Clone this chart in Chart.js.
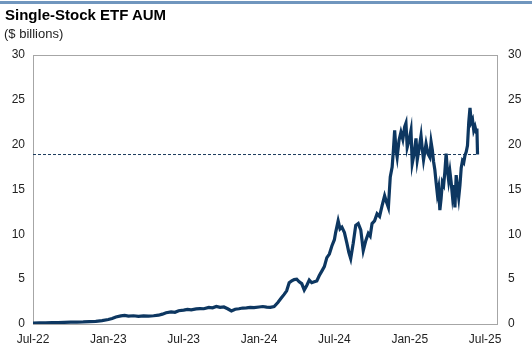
<!DOCTYPE html>
<html>
<head>
<meta charset="utf-8">
<script src="https://cdn.jsdelivr.net/npm/chart.js@4"></script>
<style>
    body { margin: 0; background: #fff; font-family: "Liberation Sans", Arial, sans-serif; }
    #wrap { position: relative; width: 532px; height: 353px; }
    #topbar { position: absolute; left: 0; top: 1px; width: 532px; height: 3px; background: #7096be; }
    #title { position: absolute; left: 5px; top: 6px; font-size: 15px; font-weight: bold; color: #000; }
    #subtitle { position: absolute; left: 4px; top: 26px; font-size: 13px; color: #222; }
    canvas { position: absolute; left: 0; top: 0; }
</style>
</head>
<body>
<div id="wrap">
    <canvas id="aumChart" width="532" height="353"></canvas>
    <div id="topbar"></div>
    <div id="title">Single-Stock ETF AUM</div>
    <div id="subtitle">($ billions)</div>
</div>
<script>
// Months since Jul-22 and AUM ($ billions)
const months = [
    0.0, 0.5, 1.0, 1.5, 2.0, 2.5, 3.0, 3.5, 4.0, 4.5, 5.0, 5.5, 6.0, 6.3, 6.6, 7.0, 7.3, 7.6, 8.0, 8.4,
    8.8, 9.2, 9.6, 10.0, 10.3, 10.6, 11.0, 11.3, 11.6, 12.0, 12.3, 12.6, 13.0, 13.3, 13.6, 14.0, 14.3, 14.6, 14.9, 15.2,
    15.5, 15.8, 16.1, 16.4, 16.7, 17.0, 17.3, 17.6, 18.0, 18.3, 18.6, 18.9, 19.2, 19.5, 19.8, 20.0, 20.2, 20.4, 20.6, 20.8,
    21.0, 21.2, 21.4, 21.6, 21.8, 22.0, 22.2, 22.4, 22.6, 22.8, 23.0, 23.2, 23.4, 23.6, 23.8, 24.0, 24.1, 24.3, 24.45, 24.6,
    24.8, 25.0, 25.15, 25.3, 25.5, 25.7, 25.9, 26.1, 26.3, 26.5, 26.7, 26.85, 27.0, 27.2, 27.4, 27.6, 27.8, 28.0, 28.15, 28.3,
    28.45, 28.6, 28.7, 28.8, 28.9, 29.0, 29.15, 29.3, 29.45, 29.6, 29.7, 29.8, 29.95, 30.1, 30.2, 30.35, 30.5, 30.6, 30.75, 30.9,
    31.0, 31.1, 31.2, 31.3, 31.45, 31.6, 31.7, 31.8, 31.9, 32.0, 32.1, 32.2, 32.3, 32.4, 32.5, 32.6, 32.7, 32.8, 32.9, 33.0,
    33.1, 33.2, 33.3, 33.4, 33.5, 33.6, 33.7, 33.8, 33.9, 34.0, 34.1, 34.2, 34.3, 34.4, 34.5, 34.6, 34.7, 34.8, 34.9, 35.0,
    35.1, 35.2, 35.3, 35.35, 35.4
];
const aum = [
    0.10, 0.12, 0.13, 0.15, 0.17, 0.18, 0.20, 0.22, 0.23, 0.27, 0.30, 0.38, 0.50, 0.62, 0.78, 0.90, 0.95, 0.88, 0.92, 0.86,
    0.90, 0.88, 0.92, 0.98, 1.10, 1.25, 1.35, 1.30, 1.48, 1.55, 1.62, 1.58, 1.68, 1.72, 1.70, 1.85, 1.80, 1.95, 1.85, 1.90,
    1.70, 1.45, 1.65, 1.70, 1.78, 1.80, 1.85, 1.82, 1.90, 1.95, 1.88, 1.85, 1.95, 2.40, 2.95, 3.30, 3.70, 4.60, 4.80, 4.95,
    5.00, 4.70, 4.50, 3.80, 4.30, 4.90, 4.60, 4.70, 4.80, 5.40, 5.90, 6.40, 7.40, 7.80, 8.70, 9.40, 10.2, 11.5, 10.6, 10.8,
    10.2, 9.0, 8.0, 7.3, 9.0, 11.0, 11.2, 10.5, 8.2, 9.3, 10.1, 9.8, 11.2, 11.5, 12.3, 12.0, 13.2, 14.3, 13.6, 13.0,
    16.4, 17.5, 19.4, 21.6, 19.5, 18.6, 20.5, 21.4, 20.6, 22.0, 22.4, 19.7, 20.5, 21.6, 17.9, 19.0, 20.7, 18.3, 19.6, 21.0,
    19.5, 18.3, 19.2, 20.1, 19.0, 18.6, 20.3, 19.4, 18.1, 17.2, 15.8, 14.5, 15.2, 12.7, 14.0, 15.8, 15.5, 17.0, 19.0, 17.2,
    16.0, 17.0, 15.8, 14.3, 15.5, 13.0, 16.6, 15.2, 14.1, 15.5, 17.4, 18.2, 18.0, 18.8, 19.2, 19.9, 22.5, 24.1, 22.5, 22.8,
    21.6, 22.0, 21.4, 21.8, 18.9
];
const latestLevel = 18.9; // dashed reference line
const tickLabels = ['Jul-22', 'Jan-23', 'Jul-23', 'Jan-24', 'Jul-24', 'Jan-25', 'Jul-25'];

const points = months.map((m, i) => ({ x: m, y: aum[i] }));
const lastMonth = months[months.length - 1];

// draw the grey box round the plot area
const boxPlugin = {
    id: 'box',
    beforeDatasetsDraw(chart) {
        const a = chart.chartArea;
        const ctx = chart.ctx;
        ctx.save();
        ctx.strokeStyle = '#a6a6a6';
        ctx.lineWidth = 1;
        ctx.strokeRect(Math.round(a.left) + 0.5, Math.round(a.top) + 0.5, Math.round(a.right - a.left), Math.round(a.bottom - a.top));
        ctx.restore();
    }
};

const tickFont = { family: '"Liberation Sans", Arial, sans-serif', size: 12 };

new Chart(document.getElementById('aumChart'), {
    type: 'line',
    data: {
        datasets: [{
            data: points,
            borderColor: '#0d3761',
            borderWidth: 3.2,
            pointRadius: 0,
            tension: 0,
            yAxisID: 'y'
        }, {
            data: [{ x: 0, y: latestLevel }, { x: lastMonth, y: latestLevel }],
            borderColor: '#1b3a5c',
            borderWidth: 1,
            borderDash: [3, 2],
            pointRadius: 0,
            yAxisID: 'y'
        }]
    },
    options: {
        responsive: false,
        animation: false,
        layout: { padding: { top: 55, left: 0, right: 0, bottom: 0 } },
        plugins: { legend: { display: false }, tooltip: { enabled: false } },
        scales: {
            x: {
                type: 'linear',
                min: 0,
                max: 36.95,
                grid: { display: false, drawTicks: false },
                border: { display: false },
                afterBuildTicks: scale => { scale.ticks = tickLabels.map((t, i) => ({ value: i * 6 })); },
                afterFit: scale => { scale.height = 29; },
                ticks: {
                    autoSkip: false,
                    maxRotation: 0,
                    padding: 8,
                    color: '#222',
                    font: tickFont,
                    callback: v => tickLabels[Math.round(v / 6)]
                }
            },
            y: {
                position: 'left',
                min: 0,
                max: 30,
                grid: { display: false, drawTicks: false },
                border: { display: false },
                afterFit: scale => { scale.width = 33; },
                ticks: { stepSize: 5, padding: 8, color: '#222', font: tickFont }
            },
            y2: {
                position: 'right',
                min: 0,
                max: 30,
                grid: { display: false, drawTicks: false },
                border: { display: false },
                afterFit: scale => { scale.width = 35; },
                ticks: { stepSize: 5, padding: 11, color: '#222', font: tickFont }
            }
        }
    },
    plugins: [boxPlugin]
});
</script>
</body>
</html>
